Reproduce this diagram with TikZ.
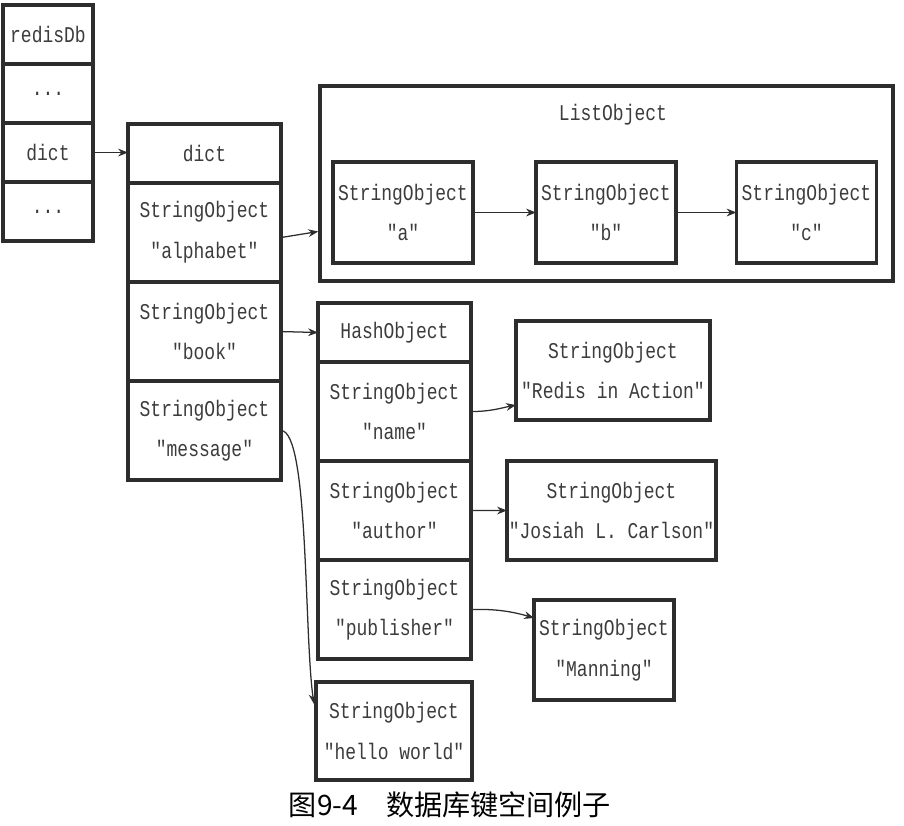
\documentclass[tikz,border=0pt]{standalone}
\usepackage{fontspec}
\usepackage{xcolor}
\usepackage{tikz}
\usetikzlibrary{arrows.meta,positioning,calc}
\newfontfamily\codefont[FakeStretch=0.8]{Liberation Mono}
\newfontfamily\cjk{Noto Sans CJK SC}
\definecolor{boxgray}{RGB}{45,45,45}
\definecolor{txtgray}{RGB}{60,60,60}

\begin{document}
\begin{tikzpicture}[x=0.025cm, y=-0.025cm,
  cell/.style={rectangle, draw=boxgray, line width=2.5pt, outer sep=0pt, inner sep=0pt,
    font=\codefont\fontsize{16}{29}\selectfont, text=txtgray, align=center,
    minimum height=1.475cm},
  key/.style={cell, minimum width=3.825cm, minimum height=2.475cm},
  obj/.style={cell, minimum width=3.5cm, minimum height=2.525cm},
  lbl/.style={font=\codefont\fontsize{16}{29}\selectfont, text=txtgray},
  arrow/.style={-{Stealth[length=7pt,width=5.5pt]}, line width=0.9pt, color=boxgray}
]
\useasboundingbox (0,0) rectangle (904,825);

% redisDb
\node[cell, minimum width=2.25cm] (db0) at (48,34.5) {redisDb};
\node[cell, minimum width=2.25cm, below=0pt of db0] (db1) {...};
\node[cell, minimum width=2.25cm, below=0pt of db1] (db2) {dict};
\node[cell, minimum width=2.25cm, below=0pt of db2] (db3) {...};

% dict
\node[cell, minimum width=3.825cm] (d0) at (204.5,153.5) {dict};
\node[key, below=0pt of d0] (dk1) {StringObject\\"alphabet"};
\node[key, below=0pt of dk1] (dk2) {StringObject\\"book"};
\node[key, below=0pt of dk2] (dk3) {StringObject\\"message"};

% list
\node[draw=boxgray, line width=2.5pt, minimum width=14.325cm, minimum height=4.875cm] (lst) at (606.5,183.5) {};
\node[lbl] (lsttitle) at (613,115) {ListObject};
\node[obj] (la) at (403,212.5) {StringObject\\"a"};
\node[obj] (lb) at (606,212.5) {StringObject\\"b"};
\node[obj] (lc) at (806.5,212.5) {StringObject\\"c"};

% hash
\node[cell, minimum width=3.825cm] (h0) at (394.5,332.5) {HashObject};
\node[key, below=0pt of h0] (h1) {StringObject\\"name"};
\node[key, below=0pt of h1] (h2) {StringObject\\"author"};
\node[key, below=0pt of h2] (h3) {StringObject\\"publisher"};

\node[cell, minimum width=4.85cm, minimum height=2.475cm] (rd) at (613,370.5) {StringObject\\"Redis in Action"};
\node[cell, minimum width=5.225cm, minimum height=2.475cm] (js) at (611.5,510.5) {StringObject\\"Josiah L. Carlson"};
\node[cell, minimum width=3.5cm, minimum height=2.5cm] (mn) at (604,650) {StringObject\\"Manning"};
\node[cell, minimum width=3.9cm, minimum height=2.45cm] (hw) at (394,731) {StringObject\\"hello world"};

\node[font=\cjk\fontsize{20}{24}\selectfont] (cap) at (450,805) {图9-4\quad 数据库键空间例子};

\draw[arrow] (db2.east) -- (db2.east -| d0.west);
\draw[arrow] ($(dk1.east)+(0,5)$) -- ($(dk1.east -| lst.west)+(0,-1)$);
\draw[arrow] (la.east) -- (lb.west);
\draw[arrow] (lb.east) -- (lc.west);
\draw[arrow] (dk2.east) -- (h0.west);
\draw[arrow] (h1.east) .. controls +(20,0) and +(-15,3) .. ($(rd.south west)+(0,-15)$);
\draw[arrow] (h2.east) -- (js.west);
\draw[arrow] (h3.east) .. controls +(25,-1) and +(-20,-6) .. ($(mn.north west)+(0,18)$);
\draw[arrow] (dk3.east) .. controls +(28,0) and +(-10,-70) .. ($(hw.north west)+(-2,22)$);
\end{tikzpicture}
\end{document}
